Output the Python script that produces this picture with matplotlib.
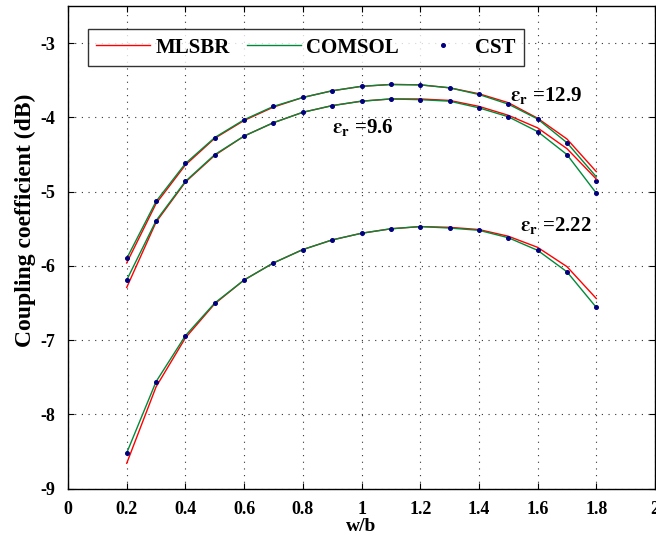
import numpy as np
import matplotlib
matplotlib.use('Agg')
import matplotlib.pyplot as plt

plt.rcParams['font.family'] = ['Liberation Serif', 'DejaVu Serif']
plt.rcParams['font.weight'] = 'bold'
plt.rcParams['mathtext.fontset'] = 'stix'

# w/b values
wb = [0.2, 0.3, 0.4, 0.5, 0.6, 0.7, 0.8, 0.9, 1.0, 1.1, 1.2, 1.3, 1.4, 1.5, 1.6, 1.7, 1.8]

# eps_r = 12.9
mlsbr_129 = [-5.96, -5.16, -4.64, -4.28, -4.04, -3.86, -3.73, -3.64, -3.58, -3.555, -3.56, -3.60, -3.68, -3.80, -4.01, -4.29, -4.73]
comsol_129 = [-5.90, -5.13, -4.62, -4.27, -4.03, -3.85, -3.73, -3.64, -3.58, -3.555, -3.56, -3.60, -3.69, -3.82, -4.02, -4.34, -4.80]
cst_129 = [-5.90, -5.13, -4.62, -4.27, -4.03, -3.85, -3.73, -3.64, -3.58, -3.555, -3.56, -3.60, -3.69, -3.82, -4.02, -4.34, -4.86]

# eps_r = 9.6
mlsbr_96 = [-6.29, -5.41, -4.87, -4.51, -4.25, -4.07, -3.93, -3.84, -3.78, -3.75, -3.75, -3.77, -3.85, -3.97, -4.14, -4.42, -4.83]
comsol_96 = [-6.19, -5.39, -4.86, -4.50, -4.25, -4.07, -3.93, -3.84, -3.78, -3.75, -3.76, -3.78, -3.87, -3.99, -4.19, -4.50, -5.02]
cst_96 = [-6.19, -5.39, -4.86, -4.50, -4.25, -4.07, -3.93, -3.84, -3.78, -3.75, -3.76, -3.78, -3.87, -3.99, -4.19, -4.50, -5.02]

# eps_r = 2.22
mlsbr_222 = [-8.66, -7.63, -6.97, -6.51, -6.19, -5.96, -5.78, -5.65, -5.56, -5.50, -5.47, -5.48, -5.51, -5.60, -5.75, -6.01, -6.44]
comsol_222 = [-8.52, -7.56, -6.94, -6.50, -6.19, -5.96, -5.78, -5.65, -5.56, -5.50, -5.47, -5.49, -5.52, -5.62, -5.79, -6.08, -6.56]
cst_222 = [-8.52, -7.56, -6.94, -6.50, -6.19, -5.96, -5.78, -5.65, -5.56, -5.50, -5.47, -5.49, -5.52, -5.62, -5.79, -6.08, -6.56]

red = '#ff0000'
green = '#008a3a'
navy = '#00007f'

fig = plt.figure(figsize=(6.56, 5.38), dpi=100)
ax = fig.add_axes([0.1037, 0.092, 0.8948, 0.8965])

for m, c, s in [(mlsbr_129, comsol_129, cst_129),
                (mlsbr_96, comsol_96, cst_96),
                (mlsbr_222, comsol_222, cst_222)]:
    ax.plot(wb, m, color=red, lw=1.0)
    ax.plot(wb, c, color=green, lw=1.0)
    ax.plot(wb, s, ls='none', marker='o', ms=2.6, color=navy)

# legend proxies
h1, = ax.plot([], [], color=red, lw=1.0, label='MLSBR')
h2, = ax.plot([], [], color=green, lw=1.0, label='COMSOL')
h3, = ax.plot([], [], ls='none', marker='o', ms=2.6, color=navy, label='CST')
leg = ax.legend(handles=[h1, h2, h3], ncol=3, loc='upper left',
                bbox_to_anchor=(0.034, 0.952), fontsize=15, frameon=True,
                fancybox=False, edgecolor='black', handlelength=2.6,
                columnspacing=0.8, borderpad=0.4, handletextpad=0.25,
                borderaxespad=0)
leg.get_frame().set_linewidth(1.0)

ax.text(1.505, -3.71, r'$\mathbf{\varepsilon_r}$ =12.9', fontsize=15, va='center')
ax.text(0.90, -4.13, r'$\mathbf{\varepsilon_r}$ =9.6', fontsize=15, va='center')
ax.text(1.54, -5.46, r'$\mathbf{\varepsilon_r}$ =2.22', fontsize=15, va='center')

ax.set_xlim(0, 2)
ax.set_ylim(-9, -2.5)
ax.set_xticks(np.arange(0, 2.01, 0.2))
ax.set_xticklabels(['0', '0.2', '0.4', '0.6', '0.8', '1', '1.2', '1.4', '1.6', '1.8', '2'])
ax.set_yticks([-9, -8, -7, -6, -5, -4, -3])
ax.set_yticklabels(['-9', '-8', '-7', '-6', '-5', '-4', '-3'])
ax.tick_params(direction='in', top=True, right=True, labelsize=13, length=4, pad=9)
ax.grid(True, ls=(0, (1, 5)), color='#333333', lw=0.8)

for sp in ax.spines.values():
    sp.set_linewidth(1.0)

ax.set_xlabel('w/b', fontsize=14, fontweight='bold', labelpad=0)
ax.set_ylabel('Coupling coefficient (dB)', fontsize=17, fontweight='bold')
ax.yaxis.set_label_coords(-0.055, 0.556)

fig.savefig('out.png', dpi=100)
